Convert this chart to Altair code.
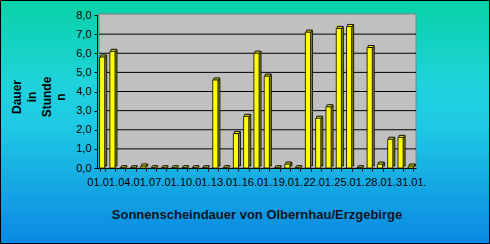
import altair as alt
import pandas as pd

days = [f"{d:02d}.01." for d in range(1, 32)]
hours = [5.8, 6.1, 0.0, 0.0, 0.1, 0.0, 0.0, 0.0, 0.0, 0.0, 0.0,
         4.6, 0.0, 1.8, 2.7, 6.0, 4.8, 0.0, 0.2, 0.0, 7.1, 2.6,
         3.2, 7.3, 7.4, 0.0, 6.3, 0.2, 1.5, 1.6, 0.1]
y_ticks = [0, 1, 2, 3, 4, 5, 6, 7, 8]
grid_vals = [1, 2, 3, 4, 5, 6, 7]
y_title = ["Dauer", "in", "Stunde", "n"]
title = "Sonnenscheindauer von Olbernhau/Erzgebirge"

W, H = 319, 153
PL, PT = 97, 15
FONT = "Liberation Sans"

df = pd.DataFrame({"day": days, "h": hours})
one = pd.DataFrame({"a": [0]})
gdf = pd.DataFrame({"g": grid_vals})

yscale = alt.Scale(domain=[0, 8])
yaxis = alt.Axis(
    title=None, values=y_ticks, grid=False, labelFont=FONT, labelFontSize=11,
    labelColor="black", labelPadding=3, tickSize=3, tickColor="black",
    domainColor="black", zindex=2,
    labelExpr="replace(format(datum.value, '.1f'), '.', ',')",
)

bg = alt.Chart(one).mark_rect(
    fill=alt.Gradient(
        gradient="linear",
        stops=[
            alt.GradientStop(color="#08D2A6", offset=0),
            alt.GradientStop(color="#1ED3DA", offset=0.33),
            alt.GradientStop(color="#1FCBE4", offset=0.5),
            alt.GradientStop(color="#0A88E2", offset=1),
        ],
        x1=0, x2=0, y1=0, y2=1,
    ),
    stroke="black", strokeWidth=1,
).encode(
    x=alt.value(-PL + 0.5), x2=alt.value(490 - PL - 0.5),
    y=alt.value(-PT + 0.5), y2=alt.value(244 - PT - 0.5),
)

wall = alt.Chart(one).mark_rect(fill="#C0C0C0", stroke="#808080", strokeWidth=1).encode(
    x=alt.value(2), x2=alt.value(W), y=alt.value(-1), y2=alt.value(H)
)

grid = alt.Chart(gdf).mark_rule(color="black", strokeWidth=1).encode(
    y=alt.Y("g:Q", scale=yscale, axis=yaxis), x=alt.value(2), x2=alt.value(W)
)

xenc = alt.X(
    "day:N", sort=days,
    scale=alt.Scale(paddingInner=0.5, paddingOuter=0.25),
    axis=alt.Axis(
        title=None, labelAngle=0, labelFont=FONT, labelFontSize=11,
        labelColor="black", labelPadding=5, tickSize=3, tickColor="black",
        domainColor="black", tickBand="extent", labelOverlap=False,
        labelFlush=False, zindex=2,
        labelExpr="(parseInt(substring(datum.value,0,2)) - 1) % 3 == 0 ? datum.value : ''",
    ),
)
yenc = alt.Y("h:Q", scale=yscale, axis=yaxis)

base = alt.Chart(df)
back = base.mark_bar(color="#808000", stroke="black", strokeWidth=0.8,
                     xOffset=2, yOffset=-2, y2Offset=-2).encode(x=xenc, y=yenc)
top = base.mark_bar(color="#FFFF00", stroke="black", strokeWidth=0.8,
                    xOffset=1, yOffset=-2, y2Offset=0).encode(x=xenc, y=yenc, y2="h:Q")
front = base.mark_bar(color="#FFFF00", stroke="black", strokeWidth=0.8).encode(x=xenc, y=yenc)

ytitle = alt.Chart(one).mark_text(
    text=y_title, angle=270, font=FONT, fontSize=12, fontWeight="bold",
    color="black", lineHeight=14.8, align="center", baseline="middle",
).encode(x=alt.value(17 - PL), y=alt.value(97 - PT))

ttl = alt.Chart(one).mark_text(
    text=title, font=FONT, fontSize=13, fontWeight="bold", color="#0A1426",
    align="center", baseline="middle",
).encode(x=alt.value(257 - PL), y=alt.value(215 - PT))

chart = alt.layer(bg, wall, grid, back, top, front, ytitle, ttl).properties(
    width=W, height=H,
    padding={"left": PL, "top": PT, "right": 490 - PL - W, "bottom": 244 - PT - H},
    autosize=alt.AutoSizeParams(type="none"),
    background="#1090E0",
).configure_view(stroke=None)

chart.save("out.html", embed_options={"renderer": "svg", "actions": False})
